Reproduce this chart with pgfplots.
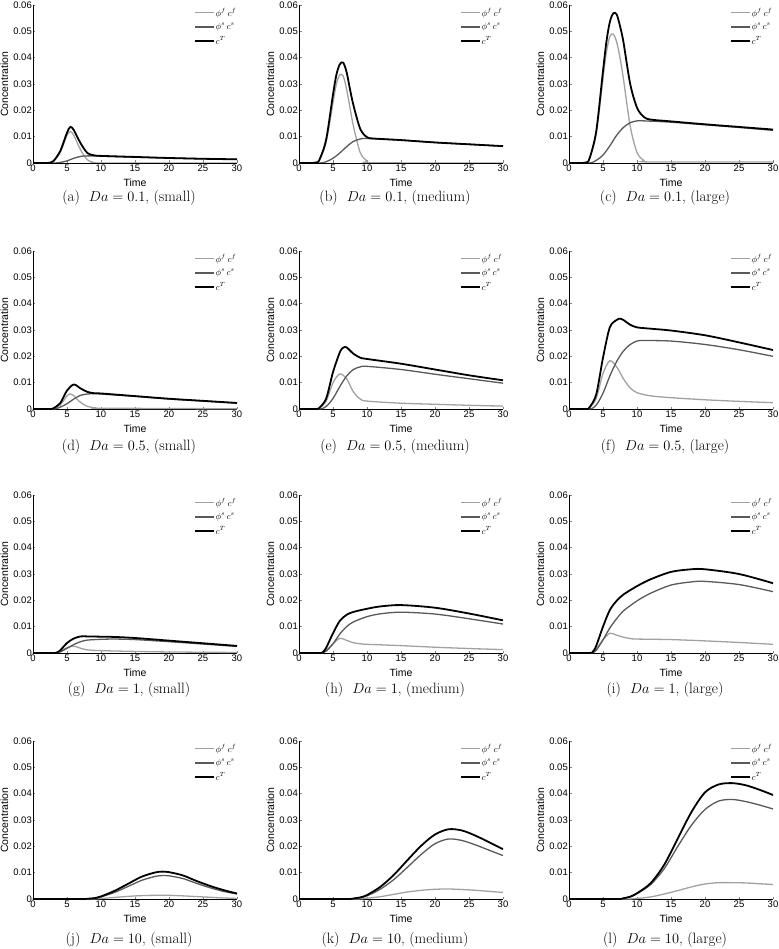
\documentclass[border=0pt]{standalone}
\usepackage{fontspec}
\usepackage{pgfplots}
\pgfplotsset{compat=1.18}
\newfontfamily\hel{Liberation Sans}
\definecolor{fcol}{gray}{0.63}
\definecolor{scol}{gray}{0.35}
\pgfplotsset{panel/.style={
  scale only axis, width=204pt, height=158pt, anchor=south west,
  xmin=0, xmax=30, ymin=0, ymax=0.06,
  axis x line*=bottom, axis y line*=left,
  axis line style={line width=0.7pt},
  tick align=inside, major tick length=2.5pt,
  tick style={line width=0.5pt},
  xtick={0,5,10,15,20,25,30},
  ytick={0,0.01,0.02,0.03,0.04,0.05,0.06},
  yticklabels={0,0.01,0.02,0.03,0.04,0.05,0.06},
  scaled y ticks=false,
  /pgf/number format/assume math mode=true,
  tick label style={font=\hel\fontsize{9.5}{11}\selectfont},
  yticklabel style={inner sep=1pt},
  xticklabel style={inner sep=1.5pt},
  xlabel={Time}, ylabel={Concentration},
  label style={font=\hel\fontsize{10.5}{12}\selectfont},
  xlabel style={at={(axis description cs:0.5,-0.127)}, anchor=center},
  ylabel style={at={(axis description cs:-0.14,0.5)}, anchor=center},
  legend style={draw=none, fill=none, at={(1,0.985)}, anchor=north east,
    font=\fontsize{9}{10}\selectfont, inner sep=0pt,
    /tikz/every odd row/.style={}, 
    /tikz/row sep=4.5pt,
    nodes={inner sep=0.5pt}},
  legend cell align=left,
  legend image code/.code={\draw[#1] (0pt,0pt) -- (19pt,0pt);},
  fl/.style={fcol, line width=1.3pt, smooth},
  sl/.style={scol, line width=1.3pt, smooth},
  tl/.style={black, line width=1.8pt, smooth},
}}
\newcommand{\panel}[5]{%
\begin{axis}[panel, at={(#1pt,-#2pt)}]
\addplot[fl] coordinates {#3};
\addplot[sl] coordinates {#4};
\addplot[tl] coordinates {#5};
\legend{$\phi^{f}\,c^{f}$,$\phi^{s}\,c^{s}$,$c^{T}$}
\end{axis}}
\newcommand{\subcap}[3]{\node[font=\fontsize{15}{17}\selectfont] at (#1pt+96pt,-#2pt) {#3};}
\begin{document}
\begin{tikzpicture}
\useasboundingbox (0,0) rectangle (778pt,-949pt);
% Row 1
\panel{33}{163}
{(0,0)(2,0)(2.5,0.0001)(3,0.0006)(4,0.004)(5,0.0105)(5.5,0.012)(6,0.0105)(7,0.005)(8,0.0012)(9,0.0002)(10,0)(30,0)}
{(0,0)(3,0)(4,0.0002)(5,0.0008)(6,0.0018)(7,0.0025)(8,0.0027)(10,0.0026)(15,0.0022)(20,0.0019)(25,0.0016)(30,0.0014)}
{(0,0)(2,0)(2.5,0.0001)(3,0.0007)(4,0.0045)(5,0.0115)(5.5,0.0137)(6,0.0125)(7,0.0075)(8,0.0038)(9,0.0029)(10,0.0027)(15,0.0023)(20,0.0019)(25,0.0016)(30,0.0014)}
\subcap{33}{198}{(a)\ \ $Da = 0.1$, (small)}
\panel{299}{163}
{(0,0)(2,0)(2.5,0.0002)(3,0.001)(4,0.008)(5,0.023)(5.5,0.030)(6,0.0335)(6.5,0.033)(7,0.028)(7.5,0.021)(8,0.014)(9,0.004)(10,0.0008)(11,0.0001)(30,0)}
{(0,0)(3,0)(4,0.0005)(5,0.0018)(6,0.0038)(7,0.0062)(8,0.0082)(9,0.0091)(10,0.0093)(15,0.0087)(20,0.0078)(25,0.0071)(30,0.0064)}
{(0,0)(2,0)(2.5,0.0002)(3,0.0012)(4,0.009)(5,0.026)(5.5,0.0335)(6,0.0375)(6.5,0.0381)(7,0.0345)(7.5,0.028)(8,0.022)(9,0.013)(10,0.0098)(11,0.0093)(15,0.0087)(20,0.0078)(25,0.0071)(30,0.0064)}
\subcap{299}{198}{(b)\ \ $Da = 0.1$, (medium)}
\panel{569}{163}
{(0,0)(2,0)(2.5,0.0002)(3,0.0015)(4,0.011)(5,0.032)(5.5,0.042)(6,0.048)(6.5,0.049)(7,0.046)(7.5,0.040)(8,0.032)(9,0.014)(10,0.004)(11,0.001)(12,0.0004)(30,0.0004)}
{(0,0)(3,0)(4,0.001)(5,0.003)(6,0.0065)(7,0.0105)(8,0.0135)(9,0.0153)(10,0.016)(11,0.016)(15,0.0155)(20,0.0145)(25,0.0135)(30,0.0124)}
{(0,0)(2,0)(2.5,0.0002)(3,0.0016)(4,0.012)(5,0.035)(5.5,0.046)(6,0.0535)(6.5,0.0568)(7,0.0565)(7.5,0.052)(8,0.046)(9,0.030)(10,0.021)(11,0.0175)(12,0.0165)(15,0.0158)(20,0.0147)(25,0.0137)(30,0.0127)}
\subcap{569}{198}{(c)\ \ $Da = 0.1$, (large)}
% Row 2
\panel{33}{409}
{(0,0)(2.5,0)(3,0.0002)(4,0.0015)(5,0.005)(5.5,0.0057)(6,0.005)(7,0.0025)(8,0.001)(9,0.0005)(10,0.0003)(30,0.0001)}
{(0,0)(3,0)(4,0.0007)(5,0.002)(6,0.0038)(7,0.0052)(8,0.0057)(9,0.0058)(10,0.0057)(15,0.0048)(20,0.0038)(25,0.0030)(30,0.0022)}
{(0,0)(2.5,0)(3,0.0003)(4,0.0022)(5,0.007)(6,0.0093)(7,0.0078)(8,0.0065)(9,0.006)(10,0.0059)(15,0.0049)(20,0.0039)(25,0.0031)(30,0.0023)}
\subcap{33}{447}{(d)\ \ $Da = 0.5$, (small)}
\panel{299}{409}
{(0,0)(2.5,0)(3,0.0004)(4,0.003)(5,0.010)(6,0.0133)(7,0.0115)(8,0.0065)(9,0.0038)(10,0.003)(15,0.0022)(20,0.0018)(25,0.0014)(30,0.0011)}
{(0,0)(3,0)(4,0.001)(5,0.004)(6,0.0085)(7,0.0125)(8,0.015)(9,0.016)(10,0.0162)(15,0.0150)(20,0.0132)(25,0.0115)(30,0.0098)}
{(0,0)(2.5,0)(3,0.0005)(4,0.004)(5,0.014)(6,0.0215)(6.5,0.0233)(7,0.0234)(8,0.021)(9,0.0195)(10,0.019)(15,0.0172)(20,0.015)(25,0.0128)(30,0.0109)}
\subcap{299}{447}{(e)\ \ $Da = 0.5$, (medium)}
\panel{569}{409}
{(0,0)(2.5,0)(3,0.0005)(4,0.004)(5,0.0135)(6,0.0183)(7,0.016)(8,0.0115)(9,0.008)(10,0.0062)(12,0.005)(15,0.0043)(20,0.0035)(25,0.0029)(30,0.0024)}
{(0,0)(3,0)(4,0.0015)(5,0.006)(6,0.0125)(7,0.018)(8,0.022)(9,0.0245)(10,0.0258)(11,0.026)(15,0.0258)(20,0.0245)(25,0.0225)(30,0.020)}
{(0,0)(2.5,0)(3,0.0006)(4,0.0055)(5,0.0195)(6,0.031)(7,0.0338)(7.5,0.0343)(8,0.0338)(9,0.032)(10,0.031)(12,0.0305)(15,0.0298)(20,0.028)(25,0.0253)(30,0.0224)}
\subcap{569}{447}{(f)\ \ $Da = 0.5$, (large)}
% Row 3
\panel{33}{653}
{(0,0)(3,0)(3.5,0.0002)(4,0.0008)(5,0.002)(6,0.0026)(7,0.0018)(8,0.0012)(10,0.0009)(15,0.0006)(20,0.0004)(30,0.0002)}
{(0,0)(3,0)(3.5,0.0001)(4,0.0004)(5,0.0018)(6,0.0032)(7,0.0043)(8,0.0049)(10,0.0052)(12,0.0053)(15,0.0051)(20,0.0043)(25,0.0034)(30,0.0025)}
{(0,0)(3,0)(3.5,0.0002)(4,0.001)(5,0.0038)(6,0.0055)(7,0.0063)(8,0.0063)(10,0.0062)(12,0.0061)(15,0.0057)(20,0.0047)(25,0.0037)(30,0.0027)}
\subcap{33}{690}{(g)\ \ $Da = 1$, (small)}
\panel{299}{653}
{(0,0)(3,0)(3.5,0.0002)(4,0.001)(5,0.0035)(6,0.0056)(7,0.0048)(8,0.0039)(9,0.0035)(10,0.0033)(15,0.0028)(20,0.0022)(25,0.0017)(30,0.0013)}
{(0,0)(3,0)(3.5,0.0001)(4,0.0007)(5,0.0035)(6,0.0072)(7,0.0100)(8,0.0118)(10,0.0138)(12,0.0149)(15,0.0155)(20,0.0148)(25,0.0130)(30,0.0110)}
{(0,0)(3,0)(3.5,0.0003)(4,0.002)(5,0.0075)(6,0.0122)(7,0.0145)(8,0.0156)(10,0.0168)(12,0.0177)(15,0.0182)(20,0.0172)(25,0.0150)(30,0.0124)}
\subcap{299}{690}{(h)\ \ $Da = 1$, (medium)}
\panel{569}{653}
{(0,0)(3,0)(3.5,0.0003)(4,0.0015)(5,0.005)(6,0.0075)(7,0.0068)(8,0.006)(9,0.0055)(10,0.0053)(15,0.0051)(20,0.0046)(25,0.004)(30,0.0033)}
{(0,0)(3,0)(3.5,0.0002)(4,0.001)(5,0.005)(6,0.0095)(7,0.013)(8,0.016)(10,0.0198)(12,0.0227)(15,0.0258)(18,0.0270)(20,0.0272)(25,0.0260)(30,0.0233)}
{(0,0)(3,0)(3.5,0.0005)(4,0.0027)(5,0.010)(6,0.0163)(7,0.0198)(8,0.0222)(10,0.0254)(12,0.0280)(15,0.0308)(18,0.0318)(20,0.0318)(25,0.0300)(30,0.0265)}
\subcap{569}{690}{(i)\ \ $Da = 1$, (large)}
% Row 4
\panel{33}{899}
{(0,0)(8,0)(10,0.0002)(12,0.0006)(14,0.001)(16,0.0013)(18,0.0014)(20,0.0014)(22,0.0012)(25,0.0008)(28,0.0004)(30,0.0002)}
{(0,0)(7,0)(8,0.0001)(9,0.0003)(10,0.0008)(12,0.0025)(14,0.0048)(16,0.0071)(18,0.0086)(19,0.0089)(20,0.0088)(22,0.0078)(24,0.0060)(26,0.0043)(28,0.0029)(30,0.0019)}
{(0,0)(7,0)(8,0.0001)(9,0.0003)(10,0.001)(12,0.0031)(14,0.0058)(16,0.0085)(18,0.0101)(19,0.0104)(20,0.0102)(22,0.009)(24,0.0069)(26,0.005)(28,0.0034)(30,0.0021)}
\subcap{33}{940}{(j)\ \ $Da = 10$, (small)}
\panel{299}{899}
{(0,0)(8,0)(10,0.0003)(12,0.0009)(14,0.0018)(16,0.0027)(18,0.0033)(20,0.0037)(22,0.0038)(24,0.0036)(26,0.0033)(28,0.0029)(30,0.0025)}
{(0,0)(7,0)(8,0.0002)(9,0.0005)(10,0.0012)(12,0.0038)(14,0.0075)(16,0.0122)(18,0.0170)(20,0.0210)(22,0.0228)(24,0.0222)(26,0.0205)(28,0.0185)(30,0.0165)}
{(0,0)(7,0)(8,0.0002)(9,0.0006)(10,0.0015)(12,0.0047)(14,0.0093)(16,0.0149)(18,0.0203)(20,0.0245)(22,0.0265)(24,0.0260)(26,0.0240)(28,0.0215)(30,0.0189)}
\subcap{299}{940}{(k)\ \ $Da = 10$, (medium)}
\panel{569}{899}
{(0,0)(8,0)(10,0.0002)(12,0.0008)(14,0.0019)(16,0.0032)(18,0.0046)(20,0.0057)(22,0.0062)(24,0.0062)(26,0.0061)(28,0.0058)(30,0.0055)}
{(0,0)(7,0)(8,0.0003)(9,0.0008)(10,0.002)(12,0.0055)(14,0.0115)(16,0.020)(18,0.028)(20,0.034)(22,0.0372)(24,0.0378)(26,0.0370)(28,0.0357)(30,0.0342)}
{(0,0)(7,0)(8,0.0003)(9,0.0009)(10,0.0022)(12,0.006)(14,0.013)(16,0.023)(18,0.033)(20,0.0405)(22,0.0435)(24,0.044)(26,0.0432)(28,0.0415)(30,0.0395)}
\subcap{569}{940}{(l)\ \ $Da = 10$, (large)}
\end{tikzpicture}
\end{document}
